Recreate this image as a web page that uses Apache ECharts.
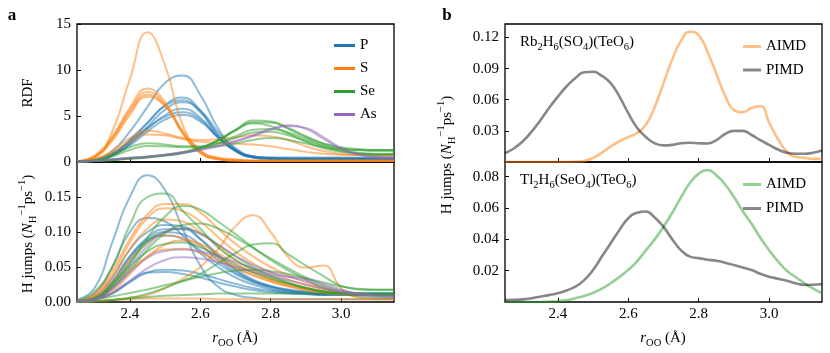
<!DOCTYPE html>
<html>
<head>
<meta charset="utf-8">
<script src="https://cdn.jsdelivr.net/npm/echarts@6/dist/echarts.min.js"></script>
<style>
html, body { margin: 0; padding: 0; background: #fff; }
#main { width: 830px; height: 353px; }
</style>
</head>
<body>
<div id="main"></div>
<script>
// r_OO grid (Å) for panel a
var xs = [2.25, 2.30, 2.35, 2.40, 2.45, 2.50, 2.55, 2.60, 2.65, 2.70, 2.75, 2.80, 2.85, 2.90, 2.95, 3.00, 3.05, 3.10, 3.15];
// finer grid for panel b
var xsFine = [2.25, 2.275, 2.30, 2.325, 2.35, 2.375, 2.40, 2.425, 2.45, 2.475, 2.50, 2.525, 2.55, 2.575, 2.60, 2.625, 2.65, 2.675,
  2.70, 2.725, 2.75, 2.775, 2.80, 2.825, 2.85, 2.875, 2.90, 2.925, 2.95, 2.975, 3.00, 3.025, 3.05, 3.075, 3.10, 3.125, 3.15];

var xTicks = [2.4, 2.6, 2.8, 3.0];
var rdfTicks = [0, 5, 10, 15];
var hjTicks = [0, 0.05, 0.10, 0.15];
var rbTicks = [0.03, 0.06, 0.09, 0.12];
var tlTicks = [0.02, 0.04, 0.06, 0.08];

// panel a, top: RDF
var rdfP = [
  [0.05, 0.3, 1.2, 3.3, 6.0, 8.6, 9.4, 7.3, 3.7, 1.4, 0.6, 0.5, 0.5, 0.5, 0.5, 0.5, 0.5, 0.5, 0.5],
  [0.03, 0.2, 0.9, 2.3, 4.2, 6.2, 7.0, 5.6, 3.0, 1.3, 0.6, 0.45, 0.4, 0.4, 0.4, 0.4, 0.4, 0.4, 0.4],
  [0.03, 0.2, 0.9, 2.4, 4.3, 6.1, 6.7, 5.4, 2.9, 1.2, 0.5, 0.35, 0.3, 0.3, 0.3, 0.3, 0.3, 0.3, 0.3],
  [0.02, 0.15, 0.7, 2.0, 3.8, 5.7, 6.5, 5.6, 3.3, 1.5, 0.6, 0.4, 0.35, 0.35, 0.35, 0.35, 0.35, 0.35, 0.35],
  [0.02, 0.15, 0.7, 2.0, 3.6, 5.1, 5.8, 4.8, 2.7, 1.2, 0.5, 0.35, 0.3, 0.3, 0.3, 0.3, 0.3, 0.3, 0.3],
  [0.03, 0.2, 0.9, 2.2, 3.7, 4.9, 5.4, 4.6, 2.7, 1.2, 0.5, 0.3, 0.3, 0.3, 0.3, 0.3, 0.3, 0.3, 0.3],
  [0.02, 0.15, 0.7, 1.8, 3.3, 4.6, 5.1, 4.4, 2.7, 1.3, 0.6, 0.4, 0.35, 0.35, 0.35, 0.35, 0.35, 0.35, 0.35]
];
var rdfS = [
  [0.1, 0.5, 3.3, 9.0, 14.1, 10.5, 4.0, 1.2, 0.5, 0.3, 0.2, 0.2, 0.2, 0.2, 0.2, 0.2, 0.2, 0.2, 0.2],
  [0.1, 0.7, 2.8, 5.9, 8.0, 6.5, 3.2, 1.0, 0.3, 0.15, 0.1, 0.1, 0.1, 0.1, 0.1, 0.1, 0.1, 0.1, 0.1],
  [0.1, 0.6, 2.6, 5.6, 7.6, 6.3, 3.1, 1.0, 0.3, 0.15, 0.1, 0.1, 0.1, 0.1, 0.1, 0.1, 0.1, 0.1, 0.1],
  [0.1, 0.6, 2.5, 5.4, 7.3, 6.1, 3.2, 1.1, 0.35, 0.15, 0.1, 0.1, 0.1, 0.1, 0.1, 0.1, 0.1, 0.1, 0.1],
  [0.08, 0.5, 2.3, 5.1, 7.1, 6.1, 3.4, 1.3, 0.4, 0.2, 0.1, 0.1, 0.1, 0.1, 0.1, 0.1, 0.1, 0.1, 0.1],
  [0.05, 0.3, 1.2, 2.6, 3.4, 3.1, 2.6, 2.4, 2.5, 2.7, 2.9, 2.8, 2.4, 1.7, 1.2, 0.9, 0.75, 0.7, 0.7],
  [0.05, 0.25, 1.0, 2.2, 3.0, 2.9, 2.5, 2.2, 2.1, 2.0, 1.9, 1.7, 1.4, 1.1, 0.9, 0.8, 0.75, 0.7, 0.7]
];
var rdfSe = [
  [0.05, 0.15, 0.3, 0.45, 0.6, 0.8, 1.1, 1.6, 2.3, 3.5, 4.5, 4.4, 3.6, 2.7, 2.0, 1.6, 1.4, 1.3, 1.3],
  [0.04, 0.12, 0.25, 0.4, 0.55, 0.75, 1.0, 1.5, 2.3, 3.4, 4.3, 4.3, 3.7, 2.8, 2.0, 1.5, 1.3, 1.2, 1.2],
  [0.03, 0.1, 0.2, 0.35, 0.5, 0.7, 1.0, 1.5, 2.4, 3.5, 4.2, 3.9, 3.1, 2.2, 1.5, 1.1, 0.9, 0.85, 0.85],
  [0.03, 0.1, 0.2, 0.35, 0.5, 0.7, 0.95, 1.4, 2.0, 2.8, 3.5, 3.6, 3.2, 2.5, 1.8, 1.3, 1.0, 0.9, 0.9],
  [0.03, 0.2, 0.8, 1.6, 2.05, 1.9, 1.7, 1.7, 2.0, 2.6, 3.2, 3.3, 2.9, 2.3, 1.7, 1.2, 0.9, 0.8, 0.8],
  [0.03, 0.15, 0.6, 1.3, 1.75, 1.7, 1.6, 1.6, 1.7, 2.0, 2.4, 2.6, 2.4, 2.0, 1.6, 1.4, 1.3, 1.3, 1.3]
];
var rdfAs = [
  [0.05, 0.15, 0.3, 0.45, 0.6, 0.8, 1.05, 1.35, 1.8, 2.3, 2.9, 3.6, 4.0, 3.6, 2.5, 1.4, 0.85, 0.6, 0.5],
  [0.04, 0.12, 0.25, 0.4, 0.55, 0.75, 1.0, 1.3, 1.7, 2.2, 2.8, 3.5, 3.9, 3.7, 2.7, 1.5, 0.8, 0.5, 0.4]
];

// panel a, bottom: H jumps
var hjP = [
  [0.003, 0.02, 0.085, 0.15, 0.181, 0.16, 0.105, 0.052, 0.022, 0.01, 0.006, 0.004, 0.004, 0.004, 0.004, 0.004, 0.004, 0.004, 0.004],
  [0.002, 0.012, 0.05, 0.1, 0.12, 0.115, 0.095, 0.07, 0.05, 0.035, 0.025, 0.018, 0.014, 0.012, 0.01, 0.01, 0.01, 0.01, 0.01],
  [0.001, 0.008, 0.035, 0.075, 0.1, 0.11, 0.108, 0.09, 0.065, 0.045, 0.03, 0.022, 0.017, 0.014, 0.012, 0.012, 0.012, 0.012, 0.012],
  [0.001, 0.006, 0.028, 0.065, 0.092, 0.104, 0.104, 0.09, 0.068, 0.047, 0.032, 0.023, 0.018, 0.015, 0.013, 0.013, 0.013, 0.013, 0.013],
  [0.001, 0.005, 0.025, 0.06, 0.088, 0.1, 0.097, 0.082, 0.06, 0.042, 0.03, 0.022, 0.016, 0.013, 0.011, 0.011, 0.011, 0.011, 0.011],
  [0.001, 0.006, 0.03, 0.065, 0.088, 0.095, 0.09, 0.074, 0.055, 0.04, 0.028, 0.02, 0.015, 0.012, 0.011, 0.011, 0.011, 0.011, 0.011],
  [0, 0.003, 0.012, 0.028, 0.042, 0.046, 0.045, 0.04, 0.033, 0.026, 0.02, 0.016, 0.013, 0.012, 0.011, 0.011, 0.011, 0.011, 0.011],
  [0, 0.003, 0.013, 0.03, 0.042, 0.043, 0.04, 0.035, 0.028, 0.022, 0.017, 0.014, 0.012, 0.011, 0.01, 0.01, 0.01, 0.01, 0.01]
];
var hjS = [
  [0.002, 0.012, 0.045, 0.09, 0.125, 0.14, 0.14, 0.128, 0.105, 0.083, 0.065, 0.05, 0.038, 0.028, 0.02, 0.015, 0.012, 0.01, 0.01],
  [0.001, 0.01, 0.04, 0.085, 0.12, 0.134, 0.13, 0.115, 0.093, 0.072, 0.055, 0.042, 0.032, 0.024, 0.018, 0.014, 0.011, 0.01, 0.01],
  [0, 0.001, 0.003, 0.006, 0.01, 0.02, 0.033, 0.05, 0.075, 0.108, 0.124, 0.1, 0.064, 0.049, 0.052, 0.02, 0.006, 0.004, 0.004],
  [0.001, 0.008, 0.035, 0.075, 0.105, 0.118, 0.115, 0.1, 0.08, 0.06, 0.045, 0.034, 0.026, 0.02, 0.015, 0.012, 0.01, 0.01, 0.01],
  [0.001, 0.006, 0.028, 0.06, 0.085, 0.095, 0.092, 0.08, 0.064, 0.05, 0.038, 0.029, 0.022, 0.017, 0.013, 0.011, 0.01, 0.01, 0.01],
  [0, 0.003, 0.015, 0.04, 0.065, 0.082, 0.088, 0.083, 0.07, 0.055, 0.042, 0.032, 0.024, 0.018, 0.014, 0.011, 0.01, 0.01, 0.01],
  [0, 0.001, 0.003, 0.004, 0.005, 0.005, 0.005, 0.005, 0.004, 0.004, 0.004, 0.004, 0.004, 0.004, 0.004, 0.004, 0.004, 0.004, 0.004],
  [0, 0.004, 0.02, 0.045, 0.065, 0.075, 0.076, 0.07, 0.06, 0.048, 0.038, 0.03, 0.023, 0.018, 0.014, 0.012, 0.01, 0.01, 0.01]
];
var hjSe = [
  [0.002, 0.015, 0.05, 0.11, 0.15, 0.155, 0.13, 0.105, 0.078, 0.06, 0.047, 0.036, 0.027, 0.02, 0.015, 0.012, 0.01, 0.01, 0.01],
  [0.001, 0.006, 0.025, 0.055, 0.092, 0.122, 0.137, 0.132, 0.115, 0.097, 0.078, 0.06, 0.045, 0.032, 0.02, 0.012, 0.008, 0.006, 0.006],
  [0.001, 0.004, 0.02, 0.045, 0.075, 0.098, 0.11, 0.112, 0.105, 0.092, 0.077, 0.062, 0.048, 0.035, 0.024, 0.016, 0.012, 0.01, 0.01],
  [0.001, 0.005, 0.025, 0.055, 0.085, 0.1, 0.105, 0.098, 0.082, 0.065, 0.05, 0.038, 0.028, 0.02, 0.015, 0.012, 0.01, 0.01, 0.01],
  [0, 0.001, 0.003, 0.006, 0.012, 0.02, 0.03, 0.04, 0.055, 0.07, 0.082, 0.084, 0.068, 0.052, 0.037, 0.023, 0.018, 0.017, 0.017],
  [0, 0.004, 0.008, 0.013, 0.018, 0.024, 0.03, 0.036, 0.041, 0.045, 0.046, 0.044, 0.04, 0.034, 0.028, 0.022, 0.019, 0.018, 0.018],
  [0, 0.001, 0.003, 0.005, 0.007, 0.009, 0.01, 0.011, 0.012, 0.012, 0.012, 0.012, 0.012, 0.012, 0.012, 0.012, 0.012, 0.012, 0.012],
  [0.001, 0.005, 0.022, 0.05, 0.072, 0.083, 0.085, 0.078, 0.066, 0.053, 0.042, 0.033, 0.026, 0.02, 0.015, 0.012, 0.011, 0.01, 0.01]
];
var hjAs = [
  [0.001, 0.004, 0.02, 0.05, 0.08, 0.1, 0.105, 0.097, 0.082, 0.066, 0.053, 0.043, 0.036, 0.03, 0.022, 0.015, 0.011, 0.009, 0.008],
  [0.001, 0.004, 0.018, 0.042, 0.063, 0.073, 0.075, 0.072, 0.065, 0.057, 0.048, 0.04, 0.036, 0.033, 0.026, 0.018, 0.012, 0.009, 0.008],
  [0, 0.003, 0.012, 0.03, 0.048, 0.06, 0.064, 0.062, 0.057, 0.05, 0.043, 0.037, 0.031, 0.025, 0.019, 0.014, 0.01, 0.008, 0.008]
];

// panel b
var rbAimd = [0, 0, 0, 0, 0, 0, 0, 0, 0.0003, 0.001, 0.004, 0.009, 0.015, 0.020, 0.024, 0.028, 0.036, 0.053,
  0.076, 0.099, 0.117, 0.1255, 0.122, 0.106, 0.085, 0.064, 0.050, 0.048, 0.052, 0.054, 0.038, 0.022, 0.010, 0.005, 0.004, 0.003, 0.003];
var rbPimd = [0.0085, 0.013, 0.0197, 0.029, 0.040, 0.052, 0.063, 0.073, 0.081, 0.0865, 0.087, 0.083, 0.076, 0.063, 0.047, 0.033, 0.024, 0.018,
  0.016, 0.0165, 0.018, 0.0185, 0.018, 0.0178, 0.021, 0.027, 0.030, 0.030, 0.026, 0.021, 0.0165, 0.012, 0.009, 0.008, 0.008, 0.009, 0.011];
var tlAimd = [0, 0, 0, 0, 0, 0.0002, 0.0005, 0.0012, 0.0024, 0.0038, 0.0058, 0.0085, 0.012, 0.016, 0.0205, 0.026, 0.033, 0.040,
  0.048, 0.057, 0.067, 0.076, 0.082, 0.0843, 0.081, 0.075, 0.067, 0.058, 0.050, 0.041, 0.033, 0.026, 0.020, 0.016, 0.012, 0.0085, 0.0056];
var tlPimd = [0.0013, 0.0014, 0.0017, 0.0024, 0.0034, 0.0044, 0.0056, 0.0074, 0.0098, 0.014, 0.0204, 0.029, 0.0375, 0.046, 0.0535, 0.057, 0.0578, 0.054,
  0.048, 0.040, 0.033, 0.029, 0.028, 0.027, 0.0264, 0.025, 0.0236, 0.022, 0.0204, 0.018, 0.0162, 0.0149, 0.0136, 0.012, 0.0109, 0.011, 0.0115];

var FONT = "Liberation Serif";
var colors = { P: "#1f77b4", S: "#ff7f0e", Se: "#2ca02c", As: "#9467bd" };

function pairs(x, y) {
  return x.map(function (v, i) { return [v, y[i]]; });
}

var series = [];
// legend-only entries (solid colour)
["P", "S", "Se", "As"].forEach(function (k) {
  series.push({ name: k, type: "line", xAxisIndex: 0, yAxisIndex: 0, data: [], symbol: "none",
    color: colors[k], lineStyle: { width: 3 } });
});
function addGroup(groups, key, axis) {
  groups.forEach(function (ys, i) {
    series.push({
      name: key + "_" + axis + "_" + i, type: "line", xAxisIndex: axis, yAxisIndex: axis,
      data: pairs(xs, ys), smooth: true, symbol: "none", silent: true,
      color: colors[key], lineStyle: { width: 2, opacity: 0.5 }
    });
  });
}
addGroup(rdfP, "P", 0); addGroup(rdfS, "S", 0); addGroup(rdfSe, "Se", 0); addGroup(rdfAs, "As", 0);
addGroup(hjP, "P", 1); addGroup(hjS, "S", 1); addGroup(hjSe, "Se", 1); addGroup(hjAs, "As", 1);

function bLine(name, ys, axis, col) {
  series.push({ name: name, type: "line", xAxisIndex: axis, yAxisIndex: axis, data: pairs(xsFine, ys),
    smooth: true, symbol: "none", silent: true, color: col, lineStyle: { width: 2.6 } });
}
bLine("AIMD-rb", rbAimd, 2, "rgba(255,127,14,0.5)");
bLine("PIMD-rb", rbPimd, 2, "rgba(0,0,0,0.47)");
bLine("AIMD-tl", tlAimd, 3, "rgba(44,160,44,0.5)");
bLine("PIMD-tl", tlPimd, 3, "rgba(0,0,0,0.47)");

var gridBox = [
  { left: 77, top: 24, width: 317, height: 138 },
  { left: 77, top: 162, width: 317, height: 140 },
  { left: 505, top: 24, width: 317, height: 138 },
  { left: 505, top: 162, width: 317, height: 140 }
];
var grids = gridBox.map(function (g) {
  return Object.assign({ show: true, borderColor: "#000", borderWidth: 1.3, containLabel: false }, g);
});

var labelFont = { fontFamily: FONT, fontSize: 15, color: "#000" };
var xAxes = gridBox.map(function (g, i) {
  return {
    gridIndex: i, type: "value", min: 2.25, max: 3.15,
    axisLine: { show: false }, splitLine: { show: false },
    axisTick: { show: true, inside: true, length: 4, customValues: xTicks, lineStyle: { color: "#000", width: 1 } },
    axisLabel: Object.assign({ show: i === 1 || i === 3, customValues: xTicks, margin: 5,
      formatter: function (v) { return v.toFixed(1); } }, labelFont)
  };
});
function yAxis(i, max, ticks, digits) {
  return {
    gridIndex: i, type: "value", min: 0, max: max,
    axisLine: { show: false }, splitLine: { show: false },
    axisTick: { show: true, inside: true, length: 4, customValues: ticks, lineStyle: { color: "#000", width: 1 } },
    axisLabel: Object.assign({ customValues: ticks, margin: 6,
      formatter: function (v) { return v.toFixed(digits); } }, labelFont)
  };
}
var yAxes = [
  yAxis(0, 15, rdfTicks, 0),
  yAxis(1, 0.2, hjTicks, 2),
  yAxis(2, 0.133, rbTicks, 2),
  yAxis(3, 0.0894, tlTicks, 2)
];

var legendBase = {
  orient: "vertical", icon: "rect", itemHeight: 3, selectedMode: false,
  textStyle: { fontFamily: FONT, fontSize: 15, color: "#000" },
  formatter: function (n) { return n.split("-")[0]; }
};
var legends = [
  Object.assign({}, legendBase, { left: 329, top: 33, itemWidth: 21, itemGap: 8, data: ["P", "S", "Se", "As"] }),
  Object.assign({}, legendBase, { left: 738, top: 34, itemWidth: 18, itemGap: 8.5, data: ["AIMD-rb", "PIMD-rb"] }),
  Object.assign({}, legendBase, { left: 738, top: 172, itemWidth: 18, itemGap: 9, data: ["AIMD-tl", "PIMD-tl"] })
];

var rich = {
  i: { fontFamily: FONT, fontSize: 15, fontStyle: "italic", lineHeight: 22 },
  sub: { fontFamily: FONT, fontSize: 10.5, lineHeight: 11, verticalAlign: "bottom" },
  sup: { fontFamily: FONT, fontSize: 10.5, lineHeight: 11, verticalAlign: "top" },
  s: { fontFamily: FONT, fontSize: 10.5, lineHeight: 11, verticalAlign: "bottom" }
};
function txt(x, y, text, opts) {
  return {
    type: "text", x: x, y: y, rotation: (opts && opts.rot) || 0, silent: true,
    style: Object.assign({
      text: text, fill: "#000", fontFamily: FONT, fontSize: 15, lineHeight: 22,
      textAlign: "center", textVerticalAlign: "middle", rich: rich
    }, (opts && opts.style) || {})
  };
}
var hjTitle = "H jumps ({i|N}{sub|H}{sup|−1}ps{sup|−1})";
var rTitle = "{i|r}{sub|OO} (Å)";
var graphics = [
  txt(12, 16, "a", { style: { fontWeight: "bold", fontSize: 17 } }),
  txt(447, 16, "b", { style: { fontWeight: "bold", fontSize: 17 } }),
  txt(28, 93, "RDF", { rot: Math.PI / 2 }),
  txt(28, 234, hjTitle, { rot: Math.PI / 2 }),
  txt(447, 155, hjTitle, { rot: Math.PI / 2 }),
  txt(235, 338, rTitle),
  txt(663, 338, rTitle),
  txt(520, 42, "Rb{s|2}H{s|6}(SO{s|4})(TeO{s|6})", { style: { textAlign: "left" } }),
  txt(520, 180, "Tl{s|2}H{s|6}(SeO{s|4})(TeO{s|6})", { style: { textAlign: "left" } })
];

var chart = echarts.init(document.getElementById("main"), null, { renderer: "canvas" });
var option = {
  animation: false,
  backgroundColor: "#fff",
  grid: grids,
  xAxis: xAxes,
  yAxis: yAxes,
  legend: legends,
  graphic: graphics,
  series: series
};
chart.setOption(option);
</script>
</body>
</html>
